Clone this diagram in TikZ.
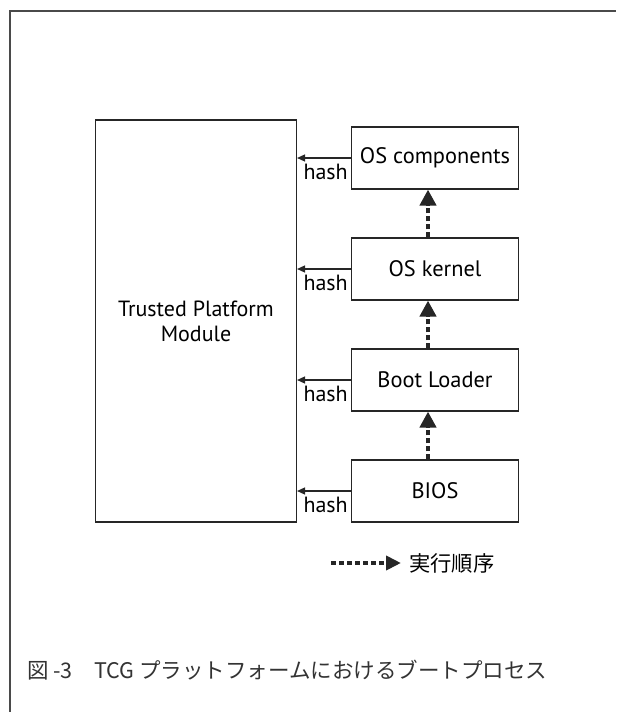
\documentclass[tikz,border=0pt]{standalone}
\usepackage{fontspec}
\setmainfont{PT Sans}
\newfontfamily\cjk{Noto Sans CJK JP}
\usetikzlibrary{arrows.meta}
\definecolor{framegray}{HTML}{4A4A4A}
\definecolor{capgray}{HTML}{333333}
\tikzset{
  stagebox/.style={draw=black!85, line width=1.1pt, minimum width=167pt, minimum height=62pt, inner sep=0pt, font=\fontsize{22.4}{26}\selectfont},
  hashline/.style={draw=black!85, line width=1.4pt, -{Triangle[length=8pt,width=7pt]}},
  hashlabel/.style={anchor=base east, inner sep=0pt, font=\fontsize{22}{26}\selectfont},
  orderline/.style={draw=black!85, line width=4.5pt, dash pattern=on 5pt off 3pt, -{Triangle[length=16pt,width=16pt]}}
}
\begin{document}
\begin{tikzpicture}[x=1pt,y=-1pt]
\useasboundingbox (0,0) rectangle (616,712);
% frame
\draw[framegray, line width=1.6pt] (10,712) -- (10,11) -- (616,11);
% TPM
\node[draw=black!85, line width=1.1pt, minimum width=201pt, minimum height=402pt, inner sep=0pt, align=center, font=\fontsize{22}{25}\selectfont] (tpm) at (196,321) {Trusted Platform\\Module};
% stages
\node[stagebox] (osc) at (435,158) {OS components};
\node[stagebox] (osk) at (435,269) {OS kernel};
\node[stagebox] (bl)  at (435,380) {Boot Loader};
\node[stagebox] (bios) at (435,491) {BIOS};
% hash arrows
\foreach \n in {osc,osk,bl,bios}{
  \draw[hashline] (\n.west) -- (\n.west -| tpm.east);
  \node[hashlabel] at ([xshift=-3pt,yshift=-21pt]\n.west) {hash};
}
% order arrows
\draw[orderline] ([xshift=-7pt]osk.north) -- ([xshift=-7pt]osc.south);
\draw[orderline] ([xshift=-7pt]bl.north) -- ([xshift=-7pt]osk.south);
\draw[orderline] ([xshift=-7pt]bios.north) -- ([xshift=-7pt]bl.south);
% legend
\coordinate (lgA) at (331,563);
\coordinate (lgB) at (401,563);
\draw[orderline, -{Triangle[length=15pt,width=14pt]}] (lgA) -- (lgB);
\node[anchor=west, inner sep=0pt, font=\cjk\fontsize{21.3}{25}\selectfont] (lgt) at (409,563) {実行順序};
% caption
\node[anchor=west, inner sep=0pt, text=capgray, font=\cjk\fontsize{21.5}{25}\selectfont] (cap) at (27,670) {図 -3　TCG プラットフォームにおけるブートプロセス};
\end{tikzpicture}
\end{document}
